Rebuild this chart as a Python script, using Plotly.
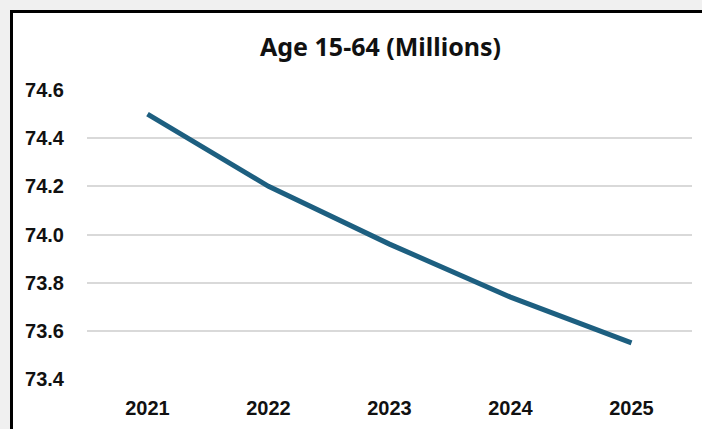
import plotly.graph_objects as go

# Working-age population, ages 15-64 (millions)
years = ["2021", "2022", "2023", "2024", "2025"]
population = [74.50, 74.20, 73.96, 73.74, 73.55]
y_ticks = [73.4, 73.6, 73.8, 74.0, 74.2, 74.4, 74.6]

W, H = 702, 429
L, R, T, B = 87, 10, 90, 50
pw, ph = W - L - R, H - T - B


def px_x(x):
    return (x - L) / pw


def px_y(y):
    return (H - B - y) / ph


fig = go.Figure()
fig.add_trace(go.Scatter(
    x=years, y=population, mode="lines",
    line=dict(color="#1d5f80", width=5, shape="linear"),
    hoverinfo="x+y",
))

# White chart card on the grey page, framed in black on the left and top
fig.add_shape(type="rect", xref="paper", yref="paper", layer="below",
              x0=px_x(11.5), x1=px_x(760), y0=px_y(11.5), y1=px_y(480),
              fillcolor="white", line=dict(width=0))
fig.add_shape(type="line", xref="paper", yref="paper", layer="below",
              x0=px_x(11.5), x1=px_x(11.5), y0=px_y(10), y1=px_y(480),
              line=dict(color="black", width=3))
fig.add_shape(type="line", xref="paper", yref="paper", layer="below",
              x0=px_x(10), x1=px_x(760), y0=px_y(11.5), y1=px_y(11.5),
              line=dict(color="black", width=3))

fig.add_annotation(text="<b>Age 15-64 (Millions)</b>", xref="paper", yref="paper",
                   x=px_x(380), y=px_y(46), xanchor="center", yanchor="middle",
                   showarrow=False,
                   font=dict(family="Noto Sans", size=25, color="#111111"))

tick_font = dict(family="Liberation Sans", size=20, color="#111111", weight="bold")

fig.update_layout(
    width=W, height=H,
    margin=dict(l=L, r=R, t=T, b=B, autoexpand=False),
    paper_bgcolor="#f0f0f0",
    plot_bgcolor="rgba(0,0,0,0)",
    showlegend=False,
    xaxis=dict(type="category", range=[-0.5, len(years) - 0.5],
               showgrid=False, zeroline=False, showline=False,
               ticks="", tickfont=tick_font, ticklabelstandoff=15),
    yaxis=dict(range=[73.4, 74.6], tickvals=y_ticks,
               ticktext=[f"{v:.1f}" for v in y_ticks],
               showgrid=True, gridcolor="#d9d9d9", gridwidth=1.5,
               zeroline=False, showline=False, ticks="",
               tickfont=tick_font, ticklabelstandoff=22),
)

fig.write_html("out.html")
